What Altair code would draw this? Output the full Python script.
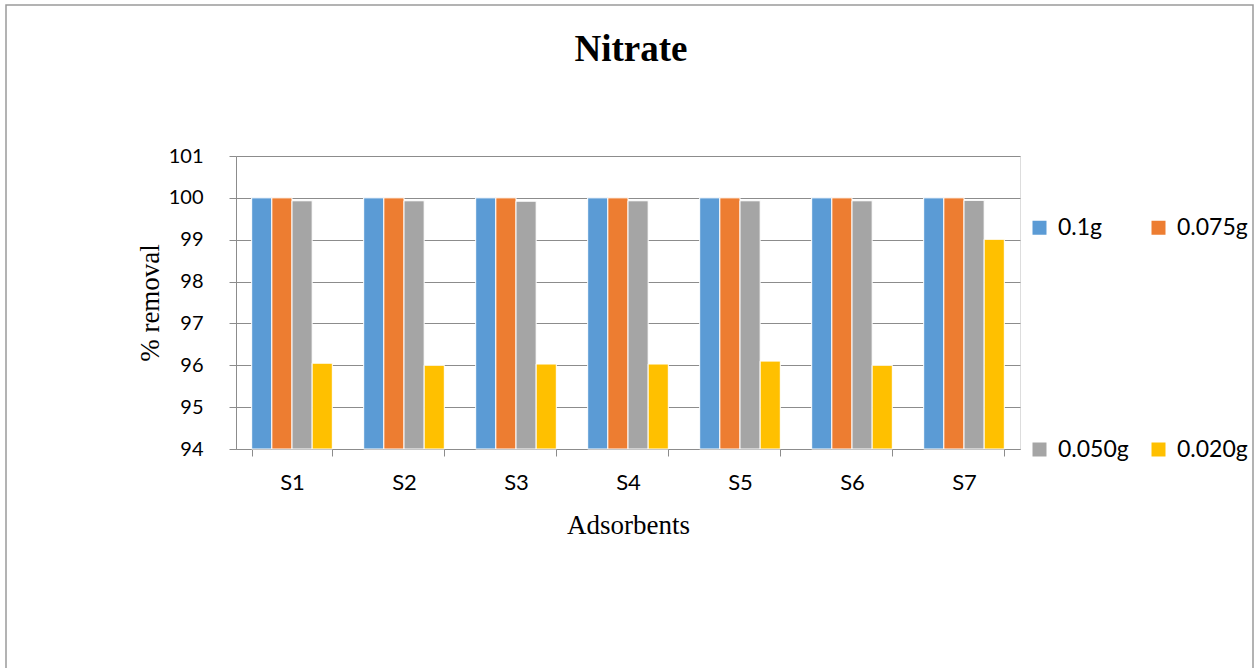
import altair as alt
import pandas as pd

title_text = ["Nitrate"]
categories = ["S1", "S2", "S3", "S4", "S5", "S6", "S7"]
series_names = ["0.1g", "0.075g", "0.050g", "0.020g"]
v_01 = [100.0, 100.0, 100.0, 100.0, 100.0, 100.0, 100.0]
v_075 = [100.0, 100.0, 100.0, 100.0, 100.0, 100.0, 100.0]
v_050 = [99.93, 99.93, 99.92, 99.93, 99.93, 99.93, 99.94]
v_020 = [96.05, 96.0, 96.03, 96.03, 96.1, 96.0, 99.01]
y_ticks = [94, 95, 96, 97, 98, 99, 100, 101]
colors = ["#5B9BD5", "#ED7D31", "#A5A5A5", "#FFC000"]

rows = []
for name, vals in zip(series_names, [v_01, v_075, v_050, v_020]):
    for c, v in zip(categories, vals):
        rows.append({"Adsorbent": c, "Dose": name, "Removal": v})
df = pd.DataFrame(rows)

W, H = 784, 293
PL, PT = 236, 156

bars = alt.Chart(df).mark_bar(stroke="white", strokeWidth=1).encode(
    x=alt.X("Adsorbent:N", sort=categories,
            scale=alt.Scale(paddingInner=0.28, paddingOuter=0.14),
            axis=alt.Axis(title="Adsorbents", labelAngle=0, tickBand="extent",
                          labelFont="Lato", labelFontSize=22, labelColor="#000000",
                          labelPadding=16, tickSize=7, tickColor="#8c8c8c",
                          domainColor="#8c8c8c", titleFont="Liberation Serif",
                          titleFontSize=27, titleFontWeight="normal",
                          titleColor="#000000", titlePadding=19, grid=False)),
    xOffset=alt.XOffset("Dose:N", sort=series_names),
    y=alt.Y("Removal:Q",
            scale=alt.Scale(domain=[94, 101], zero=False, nice=False),
            axis=alt.Axis(title="% removal", values=y_ticks, format="d",
                          labelFont="Lato", labelFontSize=20, labelColor="#000000",
                          labelPadding=26, tickSize=7, tickColor="#8c8c8c",
                          domainColor="#8c8c8c", gridColor="#8c8c8c",
                          titleFont="Liberation Serif", titleFontSize=27,
                          titleFontWeight="normal", titleColor="#000000",
                          titlePadding=4)),
    y2=alt.datum(94),
    color=alt.Color("Dose:N", sort=series_names,
                    scale=alt.Scale(domain=series_names, range=colors),
                    legend=alt.Legend(title=None, orient="none", legendX=792,
                                      legendY=60, columns=2, columnPadding=18,
                                      direction="horizontal",
                                      rowPadding=198, symbolType="square",
                                      symbolSize=196, symbolStrokeWidth=0,
                                      labelFont="Lato", labelFontSize=23,
                                      labelColor="#000000", labelOffset=7,
                                      padding=0)),
)

title = alt.Chart(pd.DataFrame({"t": title_text})).mark_text(
    font="Liberation Serif", fontSize=37, fontWeight="bold", color="#000000",
    align="center", baseline="alphabetic"
).encode(text="t:N", x=alt.value(395), y=alt.value(61 - PT))

border = alt.Chart(alt.Data(values=[{"a": 1}])).mark_rect(
    filled=False, stroke="#9a9a9a", strokeWidth=1.5
).encode(
    x=alt.value(6 - PL), x2=alt.value(1253 - PL),
    y=alt.value(5 - PT), y2=alt.value(720 - PT),
)

chart = alt.layer(border, title, bars).properties(
    width=W, height=H,
    padding={"left": PL, "top": PT, "right": 1256 - PL - W, "bottom": 668 - PT - H},
    autosize=alt.AutoSizeParams(type="none"),
).configure_view(stroke=None).configure(background="white")

chart.save("out.html", embed_options={"renderer": "svg", "actions": False})
